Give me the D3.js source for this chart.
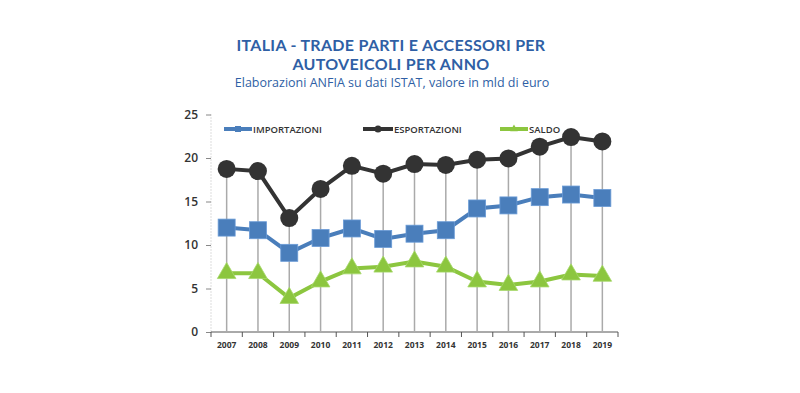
<!DOCTYPE html>
<html><head><meta charset="utf-8">
<script src="https://cdn.jsdelivr.net/npm/d3@7"></script>
<style>body{margin:0;background:#fff;}svg{display:block;}</style>
</head><body>
<script>
const years = ["2007","2008","2009","2010","2011","2012","2013","2014","2015","2016","2017","2018","2019"];
const importazioni = [12.0,11.7,9.1,10.8,11.9,10.7,11.3,11.7,14.2,14.55,15.5,15.8,15.4];
const esportazioni = [18.75,18.5,13.1,16.45,19.1,18.2,19.3,19.2,19.8,19.95,21.3,22.4,21.9];
const saldo = [6.76,6.76,3.9,5.8,7.3,7.5,8.1,7.5,5.8,5.4,5.8,6.6,6.45];
const yTicks = [0,5,10,15,20,25];
const titleLines = ["ITALIA - TRADE PARTI E ACCESSORI PER","AUTOVEICOLI PER ANNO"];
const subtitle = "Elaborazioni ANFIA su dati ISTAT, valore in mld di euro";
const seriesNames = ["IMPORTAZIONI","ESPORTAZIONI","SALDO"];

const W=800,H=393;
const svg=d3.select("body").append("svg").attr("width",W).attr("height",H);
const pL=211,pR=618,pT=114.5,pB=332;
const x=d3.scaleBand().domain(years).range([pL,pR]);
const y=d3.scaleLinear().domain([0,25]).range([pB,pT]);
const font="'Open Sans', 'DejaVu Sans', sans-serif";
const tfont="Lato, 'Open Sans', sans-serif";

// titles
const tcol="#2f5fa5";
svg.append("text").attr("x",391).attr("y",51).attr("text-anchor","middle")
  .attr("font-family",tfont).attr("font-size",16).attr("font-weight",700).attr("letter-spacing",0.3).attr("fill",tcol).text(titleLines[0]);
svg.append("text").attr("x",391).attr("y",70).attr("text-anchor","middle")
  .attr("font-family",tfont).attr("font-size",16).attr("font-weight",700).attr("letter-spacing",0.3).attr("fill",tcol).text(titleLines[1]);
svg.append("text").attr("x",392).attr("y",87).attr("text-anchor","middle")
  .attr("font-family",font).attr("font-size",12.5).attr("fill",tcol).text(subtitle);

// y axis (dotted line)
svg.append("line").attr("x1",pL).attr("x2",pL).attr("y1",pT).attr("y2",pB)
  .attr("stroke","#bbb").attr("stroke-dasharray","1,2");
const ya=svg.append("g").attr("transform",`translate(${pL},0)`)
  .call(d3.axisLeft(y).tickValues(yTicks).tickSize(5).tickPadding(8));
ya.select(".domain").remove();
ya.selectAll(".tick line").attr("stroke","#888");
ya.selectAll("text").attr("font-family",font).attr("font-size",12).attr("font-weight",600).attr("fill","#333");

// x axis
const xa=svg.append("g").attr("transform",`translate(0,${pB})`)
  .call(d3.axisBottom(x).tickSize(0).tickPadding(10));
xa.select(".domain").attr("stroke","#555").attr("d",`M${pL},0H${pR}`);
xa.selectAll("text").attr("font-family",font).attr("font-size",8.5).attr("font-weight",700).attr("fill","#333");
// band boundary ticks
const bounds=years.map(d=>x(d)).concat([pR]);
xa.selectAll(".bt").data(bounds).enter().append("line").attr("class","bt")
  .attr("x1",d=>d).attr("x2",d=>d).attr("y1",0).attr("y2",5).attr("stroke","#555");

const cx=d=>x(d)+x.bandwidth()/2;
// drop lines
svg.append("g").selectAll("line").data(years).enter().append("line")
  .attr("x1",cx).attr("x2",cx)
  .attr("y1",(d,i)=>y(d3.max([importazioni[i],esportazioni[i],saldo[i]])))
  .attr("y2",pB).attr("stroke","#aaa").attr("stroke-width",1.5);

const line=arr=>d3.line().x((d,i)=>cx(years[i])).y(d=>y(d))(arr);
const cImp="#4a7ebb", cEsp="#333333", cSal="#8cc63f";

// importazioni
svg.append("path").attr("d",line(importazioni)).attr("fill","none").attr("stroke",cImp).attr("stroke-width",4);
svg.append("g").selectAll("rect").data(importazioni).enter().append("rect")
  .attr("x",(d,i)=>cx(years[i])-8.5).attr("y",d=>y(d)-8.5).attr("width",17).attr("height",17)
  .attr("fill",cImp).attr("stroke","#6a9bd6").attr("stroke-width",0.8);
// esportazioni
svg.append("path").attr("d",line(esportazioni)).attr("fill","none").attr("stroke",cEsp).attr("stroke-width",4);
svg.append("g").selectAll("circle").data(esportazioni).enter().append("circle")
  .attr("cx",(d,i)=>cx(years[i])).attr("cy",d=>y(d)).attr("r",9).attr("fill",cEsp);
// saldo
svg.append("path").attr("d",line(saldo)).attr("fill","none").attr("stroke",cSal).attr("stroke-width",4);
const tri=d3.symbol().type(d3.symbolTriangle).size(150);
svg.append("g").selectAll("path").data(saldo).enter().append("path")
  .attr("d",tri).attr("transform",(d,i)=>`translate(${cx(years[i])},${y(d)})`)
  .attr("fill",cSal).attr("stroke","#a6d86a").attr("stroke-width",0.8);

// legend
const leg=[{n:seriesNames[0],c:cImp,x1:224,x2:252,tx:253,m:"rect"},
           {n:seriesNames[1],c:cEsp,x1:363,x2:393,tx:394,m:"circle"},
           {n:seriesNames[2],c:cSal,x1:500,x2:528,tx:529,m:"tri"}];
const ly=129;
leg.forEach(l=>{
  const g=svg.append("g");
  g.append("line").attr("x1",l.x1).attr("x2",l.x2).attr("y1",ly).attr("y2",ly).attr("stroke",l.c).attr("stroke-width",4);
  const mx=(l.x1+l.x2)/2;
  if(l.m==="rect") g.append("rect").attr("x",mx-3).attr("y",ly-3).attr("width",6).attr("height",6).attr("fill",l.c);
  else if(l.m==="circle") g.append("circle").attr("cx",mx).attr("cy",ly).attr("r",3.5).attr("fill",l.c);
  else g.append("path").attr("d",d3.symbol().type(d3.symbolTriangle).size(25)).attr("transform",`translate(${mx},${ly})`).attr("fill",l.c);
  g.append("text").attr("x",l.tx).attr("y",ly+3.5).attr("font-family",font).attr("font-size",9.5).attr("font-weight",600).attr("fill","#333").text(l.n);
});
</script>
</body></html>
